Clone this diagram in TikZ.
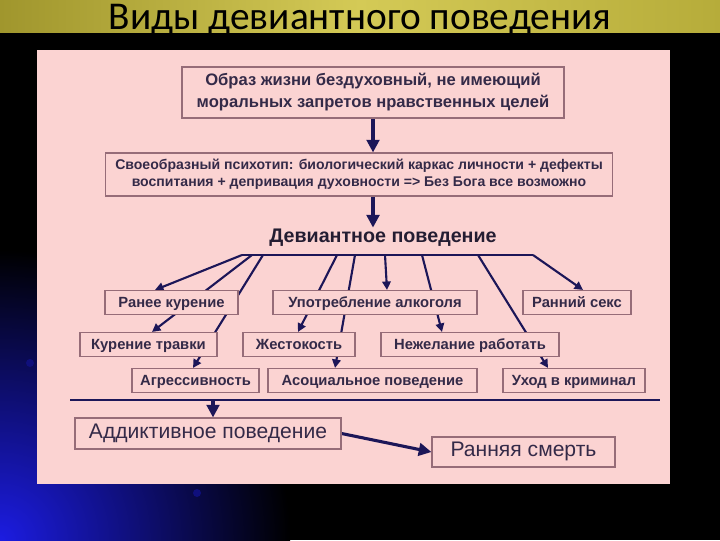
\documentclass[tikz,border=0pt]{standalone}
\usepackage{fontspec}
\setmainfont{Liberation Sans}
\newfontfamily\titlefont{Carlito}
\definecolor{panelpink}{RGB}{251,211,210}
\definecolor{boxedge}{RGB}{150,108,120}
\definecolor{arrownavy}{RGB}{28,22,88}
\definecolor{inktext}{RGB}{52,42,72}
\definecolor{oliveleft}{RGB}{160,150,45}
\definecolor{olivemid}{RGB}{212,202,86}
\definecolor{oliveright}{RGB}{182,172,58}
\definecolor{glowblue}{RGB}{28,28,225}
\usetikzlibrary{arrows.meta,calc,backgrounds}
\pgfdeclarelayer{backdrop}
\pgfsetlayers{backdrop,background,main}
\tikzset{
  card/.style={fill=panelpink,draw=boxedge,line width=0.8pt,text=inktext,inner sep=2pt,align=center},
  kind/.style={card,font=\fontsize{10.5}{12}\selectfont\bfseries,minimum height=0.6cm,text height=1.4ex,text depth=0.1ex},
  outcome/.style={card,font=\fontsize{15}{17}\selectfont,minimum height=0.775cm,text height=1.4ex,text depth=0.1ex},
  link/.style={draw=arrownavy,line width=1.5pt,-{Triangle[length=6pt,width=6pt]}},
  flow/.style={draw=arrownavy,line width=2.2pt,-{Triangle[length=9pt,width=9pt]}},
}

\begin{document}
\begin{tikzpicture}[x=0.025cm,y=-0.025cm]
  \useasboundingbox (0,0) rectangle (720,540);
  % slide background
  \begin{pgfonlayer}{backdrop}
    \fill[black] (0,0) rectangle (720,540);
    \begin{scope}
      \clip (0,32) rectangle (720,540);
      \shade[inner color=glowblue,outer color=black] (-290,250) rectangle (290,830);
    \end{scope}
    \fill[glowblue!55!black] (30,363) circle (4);
    \fill[glowblue!55!black] (197,493) circle (4);
    \shade[left color=oliveleft,right color=oliveright,middle color=olivemid] (0,0) rectangle (720,32);
    \fill[panelpink] (37,50) rectangle (670,484);
  \end{pgfonlayer}

  \node[font=\titlefont\fontsize{28}{28}\selectfont,anchor=base] (title) at (360,29) {Виды девиантного поведения};

  % chain
  \node[card,font=\fontsize{11.8}{15.6}\selectfont\bfseries,minimum width=9.55cm,minimum height=1.275cm] (life) at (373,92.5)
    {Образ жизни бездуховный, не имеющий\\моральных запретов нравственных целей};
  \node[card,font=\fontsize{10}{11.8}\selectfont\bfseries,minimum width=12.65cm,minimum height=1.075cm] (psyche) at (359,174.5)
    {Своеобразный психотип: биологический каркас личности + дефекты\\воспитания + депривация духовности => Без Бога все возможно};
  \node[font=\fontsize{14}{14}\selectfont\bfseries,text=inktext!70!black,inner sep=1pt] (dev) at (383,238) {Девиантное поведение};

  % kinds
  \node[kind,minimum width=3.325cm] (earlysmoke) at (171.5,302.5) {Ранее курение};
  \node[kind,minimum width=5.1cm] (alcohol) at (375,302.5) {Употребление алкоголя};
  \node[kind,minimum width=2.7cm] (earlysex) at (577,302.5) {Ранний секс};
  \node[kind,minimum width=3.425cm] (weed) at (148.5,344.5) {Курение травки};
  \node[kind,minimum width=2.8cm] (cruelty) at (299,344.5) {Жестокость};
  \node[kind,minimum width=4.45cm] (nowork) at (470,344.5) {Нежелание работать};
  \node[kind,minimum width=3.175cm] (aggression) at (195.5,380.5) {Агрессивность};
  \node[kind,minimum width=5.225cm] (asocial) at (372.5,380.5) {Асоциальное поведение};
  \node[kind,minimum width=3.55cm] (crime) at (574,380.5) {Уход в криминал};

  % results
  \node[outcome,minimum width=6.65cm] (addict) at (208,433.5) {Аддиктивное поведение};
  \node[outcome,minimum width=4.575cm,minimum height=0.75cm] (death) at (523.5,452) {Ранняя смерть};

  \coordinate (barL) at (242,255);
  \coordinate (barR) at (533,255);
  \coordinate (b1) at (252,255);
  \coordinate (b2) at (263,255);
  \coordinate (b3) at (337,255);
  \coordinate (b4) at (355,255);
  \coordinate (b5) at (385,255);
  \coordinate (b6) at (422,255);
  \coordinate (b7) at (478,255);
  \coordinate (sepL) at (70,400);
  \coordinate (sepR) at (660,400);
  \coordinate (sepA) at (213,400);

  \begin{scope}[on background layer]
    \draw[flow] (life.south) -- (life.south |- psyche.north);
    \draw[flow] (psyche.south -| life.south) -- (dev.north -| life.south);
    \draw[arrownavy,line width=1.5pt] (barL) -- (barR);
    \draw[link] (barL) -- ($(earlysmoke.north)+(-16.5,0)$);
    \draw[link] (b1) -- ($(weed.north)+(3.5,0)$);
    \draw[link] (b2) -- ($(aggression.north)+(-2.5,0)$);
    \draw[link] (b3) -- ($(cruelty.north)+(-1,0)$);
    \draw[link] (b4) -- ($(asocial.north)+(-37.5,0)$);
    \draw[link] (b5) -- ($(alcohol.north)+(12,0)$);
    \draw[link] (b6) -- ($(nowork.north)+(-28,0)$);
    \draw[link] (b7) -- ($(crime.north)+(-26,0)$);
    \draw[link] (barR) -- ($(earlysex.north)+(6,0)$);
    \draw[arrownavy,line width=1.9pt] (sepL) -- (sepR);
    \draw[flow] (sepA) -- (sepA |- addict.north);
    \draw[flow] (addict.east) -- (death.west);
  \end{scope}
\end{tikzpicture}
\end{document}
